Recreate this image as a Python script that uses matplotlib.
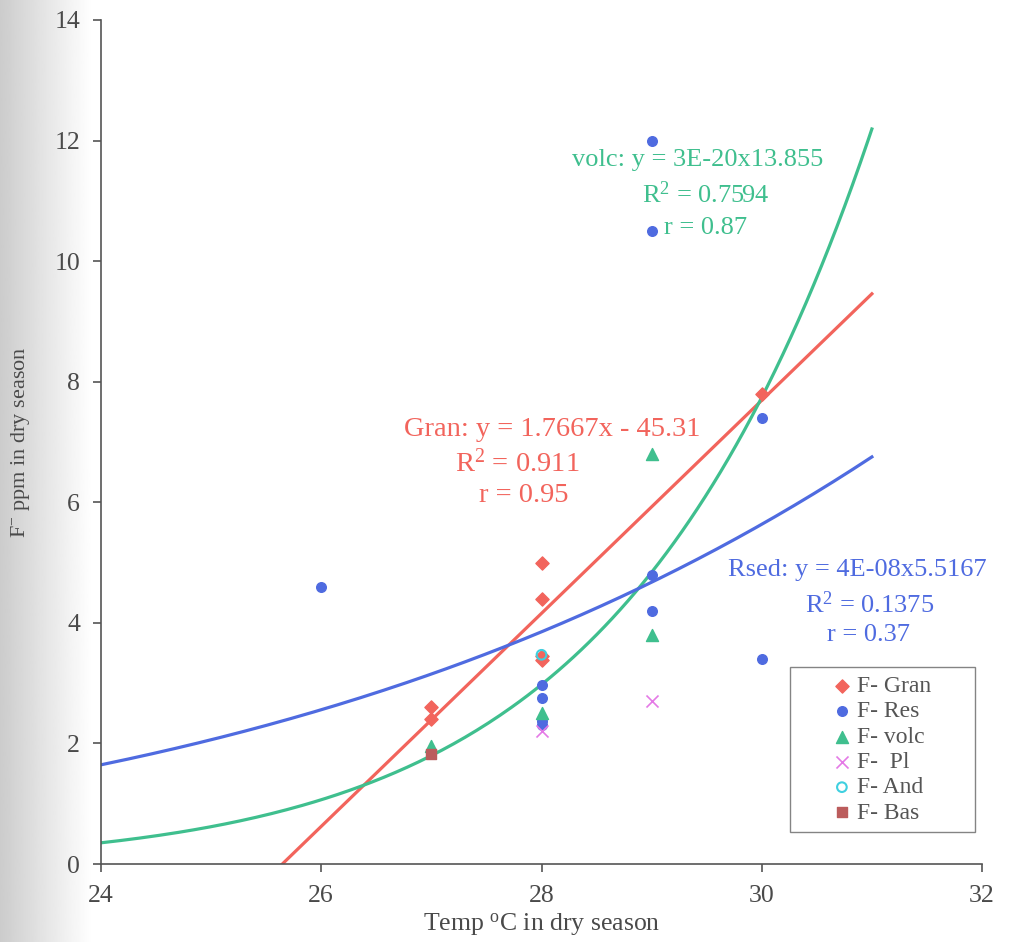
import matplotlib.pyplot as plt
import numpy as np

# data
gran_x = [27, 27, 28, 28, 28, 28, 30]
gran_y = [2.6, 2.4, 5.0, 4.4, 3.45, 3.38, 7.8]

res_x = [26, 28, 28, 28, 28, 29, 29, 29, 29, 30, 30]
res_y = [4.6, 2.97, 2.75, 2.38, 2.3, 12.0, 10.5, 4.8, 4.2, 7.4, 3.4]

volc_x = [27, 28, 29, 29]
volc_y = [1.95, 2.5, 6.8, 3.8]

pl_x = [28, 29]
pl_y = [2.2, 2.7]

and_x = [28]
and_y = [3.47]

bas_x = [27]
bas_y = [1.82]

# trendline parameters (as printed on the chart)
gran_slope, gran_icpt = 1.7667, -45.31
volc_a, volc_b = 2.65e-20, 13.855
rsed_a, rsed_b = 4e-08, 5.5167

C_GRAN = '#f2645c'
C_RES = '#4f6be0'
C_VOLC = '#3fbf8e'
C_PL = '#e47ae6'
C_AND = '#3fd0e0'
C_BAS = '#bb5c5c'

plt.rcParams['font.family'] = ['Liberation Serif', 'DejaVu Serif']
plt.rcParams['mathtext.fontset'] = 'custom'
plt.rcParams['mathtext.rm'] = 'Liberation Serif'
plt.rcParams['mathtext.it'] = 'Liberation Serif:italic'

fig = plt.figure(figsize=(10.15, 9.42), dpi=100)

# faint grey scanner shading on the left edge
bg = fig.add_axes([0, 0, 0.09, 1], zorder=-5)
grad = np.linspace(0.80, 1.0, 100)[None, :]
bg.imshow(grad, cmap='gray', vmin=0, vmax=1, aspect='auto', extent=[0, 1, 0, 1])
bg.axis('off')

ax = fig.add_axes([0.0995, 0.0828, 0.868, 0.896])
ax.patch.set_alpha(0)

# trendlines
xg = np.linspace(-gran_icpt / gran_slope, 31, 50)
ax.plot(xg, gran_slope * xg + gran_icpt, color=C_GRAN, lw=2.3, zorder=2)
xp = np.linspace(24, 31, 200)
ax.plot(xp, volc_a * xp ** volc_b, color=C_VOLC, lw=2.3, zorder=2)
ax.plot(xp, rsed_a * xp ** rsed_b, color=C_RES, lw=2.3, zorder=2)

# points
pad = '      '
ax.scatter(gran_x, gran_y, marker='D', s=45, color=C_GRAN, label='F- Gran' + pad, zorder=3)
ax.scatter(res_x, res_y, marker='o', s=48, color=C_RES, label='F- Res', zorder=3)
ax.scatter(volc_x, volc_y, marker='^', s=75, color=C_VOLC, label='F- volc', zorder=3)
ax.scatter(pl_x, pl_y, marker='x', s=75, color=C_PL, linewidths=1.2, label='F-  Pl', zorder=3)
ax.scatter(and_x, and_y, marker='o', s=48, facecolors='none', edgecolors=C_AND,
           linewidths=1.5, label='F- And', zorder=3)
ax.scatter(bas_x, bas_y, marker='s', s=48, color=C_BAS, label='F- Bas', zorder=3)

ax.set_xlim(24, 32)
ax.set_ylim(0, 14)
ax.set_xticks(np.arange(24, 33, 2))
ax.set_yticks(np.arange(0, 15, 2))
ax.spines['top'].set_visible(False)
ax.spines['right'].set_visible(False)
for s in ('left', 'bottom'):
    ax.spines[s].set_color('#555555')
    ax.spines[s].set_linewidth(1.2)
ax.tick_params(colors='#555555', labelsize=18.5, length=6, width=1.2,
               labelcolor='#4a4a4a', pad=9)

ax.set_xlabel('Temp $^{\\mathrm{o}}$C in dry season', fontsize=18.5, color='#4a4a4a', labelpad=3)
ax.set_ylabel('F$^{-}$ ppm in dry season', fontsize=16, color='#4a4a4a', labelpad=16)

# equation labels
tk = dict(ha='center', va='center')
ax.text(29.42, 11.67, 'volc: y = 3E-20x13.855', color=C_VOLC, fontsize=19, **tk)
ax.text(29.49, 11.1, 'R$^{2}$ = 0.7594', color=C_VOLC, fontsize=19, **tk)
ax.text(29.49, 10.55, 'r = 0.87', color=C_VOLC, fontsize=19, **tk)

ax.text(28.1, 7.2, 'Gran: y = 1.7667x - 45.31', color=C_GRAN, fontsize=20.5, **tk)
ax.text(27.78, 6.65, 'R$^{2}$ = 0.911', color=C_GRAN, fontsize=20.5, **tk)
ax.text(27.84, 6.12, 'r = 0.95', color=C_GRAN, fontsize=20.5, **tk)

ax.text(30.87, 4.88, 'Rsed: y = 4E-08x5.5167', color=C_RES, fontsize=19, **tk)
ax.text(30.98, 4.3, 'R$^{2}$ = 0.1375', color=C_RES, fontsize=19, **tk)
ax.text(30.97, 3.8, 'r = 0.37', color=C_RES, fontsize=19, **tk)

leg = ax.legend(loc='lower left', bbox_to_anchor=(0.782, 0.038), fontsize=17,
                frameon=True, fancybox=False, edgecolor='#666666', handletextpad=-1.2,
                handlelength=3.7, borderpad=0.35, labelspacing=0.16, labelcolor='#555555',
                borderaxespad=0)
leg.get_frame().set_linewidth(1.0)

fig.savefig('out.png', dpi=100)
